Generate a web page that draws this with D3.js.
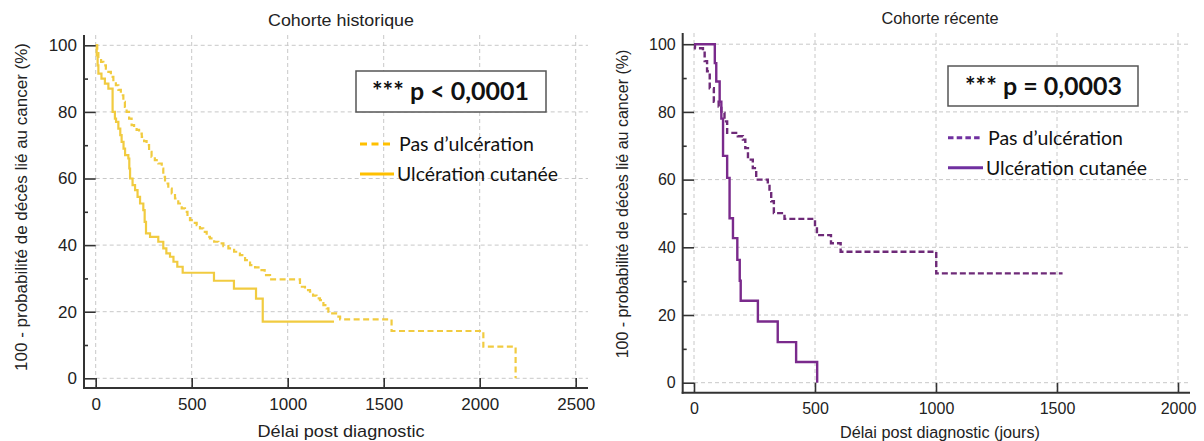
<!DOCTYPE html>
<html><head><meta charset="utf-8">
<script src="https://cdn.jsdelivr.net/npm/d3@7"></script>
<style>body{margin:0;background:#fff;} svg{display:block;}</style>
</head><body><svg id="c" width="1204" height="441"></svg>
<script>
// ---------- DATA ----------
const histTitle = "Cohorte historique";
const recTitle = "Cohorte récente";
const histXLabel = "Délai post diagnostic";
const recXLabel = "Délai post diagnostic (jours)";
const yLabel = "100 - probabilité de décès lié au cancer (%)";
const histXTicks = [0, 500, 1000, 1500, 2000, 2500];
const recXTicks = [0, 500, 1000, 1500, 2000];
const yTicks = [0, 20, 40, 60, 80, 100];
const yMinorTicks = [10, 30, 50, 70, 90];
const legendLabels = ["Pas d\u2019ulcération", "Ulcération cutanée"];
const histPText = "*** p < 0,0001";
const recPText = "*** p = 0,0003";

// Cohorte historique - Pas d'ulcération (dashed)
const histNoUlcT = [0,8,14,28,40,53,66,79,92,105,118,131,144,152,161,174,187,200,213,226,240,252,265,278,291,308,326,344,352,361,378,396,413,430,448,465,478,491,509,526,543,560,578,595,617,639,665,691,721,751,778,804,830,856,880,908,1064,1090,1116,1132,1150,1168,1186,1203,1212,1220,1264,1273,1541,2019,2187];
const histNoUlcS = [100,98,96,95,94,93,92,90.5,89,88,86.6,85,83,81.5,80,78,76,75.2,74.6,73.5,72.5,71.2,70,68,66.5,65.5,64.5,63,60.5,58.5,57,55.5,54,52.5,51,50,48.5,47.5,46.7,46,45,44,42.5,42,41,40.5,39.7,39,38,37,35.5,34,33.3,32.5,31,29.7,27.5,26.5,26,24.8,24,23.5,22,21,20,19.5,18.5,17.7,14.2,9.5,0];
// Cohorte historique - Ulcération cutanée (solid)
const histUlcT = [0,5,10,14,30,48,66,88,100,106,118,128,135,145,153,170,175,179,192,205,218,231,248,255,262,283,326,352,368,387,405,425,453,616,720,835,870,1241];
const histUlcS = [100,97,94,91.5,90,88.5,87,80,78,77,75,73,71,69,67,66,63,60,58,56.5,54.5,52.5,50.5,47,43.5,42.5,41,39,37.5,36.5,35,33.5,31.7,29.3,26.9,23.9,17,17];
// Cohorte récente - Pas d'ulcération (dashed)
const recNoUlcT = [0,4,37,44,54,65,82,102,113,126,137,181,202,212,223,243,257,305,312,319,330,374,500,508,566,606,1001,1523];
const recNoUlcS = [100,98.8,97.9,95,92,87,83,81.6,79.7,77.2,73.8,72.8,71.8,69.3,65.9,63.4,60,58.5,56,53.6,50.1,48.4,46,43.6,41.2,38.7,32.3,32.3];
// Cohorte récente - Ulcération cutanée (solid)
const recUlcT = [0,86,92,106,113,120,137,147,161,179,189,193,264,346,422,509];
const recUlcS = [100,94.4,89,83,78,67,60.5,48.6,42.7,36.3,30.1,24.2,18.1,12,6.1,0];

// ---------- LAYOUT / STYLE ----------
const svg = d3.select("#c");
const FONT = "'Liberation Sans', Arial, sans-serif";
const LFONT = "Lato, 'Open Sans', sans-serif";

const panels = [
  { title: histTitle, xLabel: histXLabel, xTicks: histXTicks, xMax: 2500,
    xr: [95.7, 575.7], yr: [378.3, 45.3], axX: 84, axY: 388, axRight: 588, axTop: 35,
    fs: 17, titleX: 341, titleY: 26, titleLen: 146, xLabY: 437, xLabLen: 167, yLabX: 27, yLabY: 207,
    series: [
      { t: histNoUlcT, s: histNoUlcS, color: "#F1CB40", dash: "6,3.5", w: 2.2 },
      { t: histUlcT, s: histUlcS, color: "#F1CB40", dash: null, w: 2.2 } ],
    legColor: "#FFC000", legDash: "7,4.5",
    box: [356, 71, 190, 41], pText: histPText, pX: 372, pY: 100, pLen: 157,
    leg: { x0: 360, x1: 391, tx: 399, y1: 144, y2: 174, len1: 135, len2: 161 } },
  { title: recTitle, xLabel: recXLabel, xTicks: recXTicks, xMax: 2000,
    xr: [694, 1178], yr: [382.7, 44.2], axX: 682.7, axY: 392.7, axRight: 1190, axTop: 33,
    fs: 16, titleX: 940, titleY: 24, titleLen: 117, xLabY: 438, xLabLen: 200, yLabX: 628, yLabY: 204,
    series: [
      { t: recNoUlcT, s: recNoUlcS, color: "#6E2A78", dash: "6,3", w: 2.4 },
      { t: recUlcT, s: recUlcS, color: "#7A2A8C", dash: null, w: 2.4 } ],
    legColor: "#7030A0", legDash: "5.5,3.2",
    box: [948, 66, 190, 40], pText: recPText, pX: 965, pY: 95, pLen: 157,
    leg: { x0: 948, x1: 980, tx: 988, y1: 137.7, y2: 167.7, len1: 135, len2: 161 } }
];

panels.forEach(p => {
  const g = svg.append("g");
  const x = d3.scaleLinear().domain([0, p.xMax]).range(p.xr);
  const y = d3.scaleLinear().domain([0, 100]).range(p.yr);

  // grid
  g.append("g").selectAll("line").data(yTicks).join("line")
    .attr("x1", p.xr[0]).attr("x2", p.axRight)
    .attr("y1", d => y(d)).attr("y2", d => y(d))
    .attr("stroke", "#c8c8c8").attr("stroke-width", 1).attr("stroke-dasharray", "4,3");
  g.append("g").selectAll("line").data(p.xTicks).join("line")
    .attr("x1", d => x(d)).attr("x2", d => x(d))
    .attr("y1", p.axTop).attr("y2", p.axY)
    .attr("stroke", "#c8c8c8").attr("stroke-width", 1).attr("stroke-dasharray", "4,3");

  // curves
  const line = d3.line().x(d => x(d[0])).y(d => y(d[1])).curve(d3.curveStepAfter);
  p.series.forEach(sr => {
    const pts = sr.t.map((t, i) => [t, sr.s[i]]);
    g.append("path").attr("d", line(pts)).attr("fill", "none")
      .attr("stroke", sr.color).attr("stroke-width", sr.w)
      .attr("stroke-dasharray", sr.dash);
  });

  // axes
  const xa = g.append("g").attr("transform", `translate(0,${p.axY})`)
    .call(d3.axisBottom(x).tickValues(p.xTicks).tickFormat(d3.format("d"))
      .tickSizeInner(-10).tickSizeOuter(0).tickPadding(10));
  const ya = g.append("g").attr("transform", `translate(${p.axX},0)`)
    .call(d3.axisLeft(y).tickValues(yTicks).tickFormat(d3.format("d"))
      .tickSizeInner(-(p.xr[0] - p.axX)).tickSizeOuter(0).tickPadding(7));
  const ym = g.append("g").attr("transform", `translate(${p.axX},0)`)
    .call(d3.axisLeft(y).tickValues(yMinorTicks).tickSizeInner(-4).tickSizeOuter(0).tickFormat(""));
  [xa, ya, ym].forEach(a => {
    a.select(".domain").remove();
    a.selectAll(".tick line").attr("stroke", "#333").attr("stroke-width", 1.6);
    a.selectAll("text").attr("font-family", FONT).attr("font-size", p.fs).attr("fill", "#222");
  });
  g.append("line").attr("x1", p.axX).attr("x2", p.axX).attr("y1", p.axTop).attr("y2", p.axY + 1)
    .attr("stroke", "#333").attr("stroke-width", 2);
  g.append("line").attr("x1", p.axX - 1).attr("x2", p.axRight).attr("y1", p.axY).attr("y2", p.axY)
    .attr("stroke", "#333").attr("stroke-width", 2);

  // titles
  g.append("text").attr("x", p.titleX).attr("y", p.titleY).attr("text-anchor", "middle")
    .attr("font-family", FONT).attr("font-size", p.fs).attr("fill", "#222")
    .attr("textLength", p.titleLen).attr("lengthAdjust", "spacingAndGlyphs").text(p.title);
  g.append("text").attr("x", p.titleX).attr("y", p.xLabY).attr("text-anchor", "middle")
    .attr("font-family", FONT).attr("font-size", p.fs).attr("fill", "#222")
    .attr("textLength", p.xLabLen).attr("lengthAdjust", "spacingAndGlyphs").text(p.xLabel);
  g.append("text").attr("transform", `translate(${p.yLabX},${p.yLabY}) rotate(-90)`)
    .attr("text-anchor", "middle").attr("font-family", FONT).attr("font-size", p.fs)
    .attr("fill", "#222").text(yLabel);

  // p-value box
  g.append("rect").attr("x", p.box[0]).attr("y", p.box[1]).attr("width", p.box[2]).attr("height", p.box[3])
    .attr("fill", "#fff").attr("stroke", "#555").attr("stroke-width", 1.5);
  g.append("text").attr("x", p.pX).attr("y", p.pY).attr("font-family", LFONT).attr("font-weight", "bold")
    .attr("font-size", 24).attr("fill", "#111").attr("textLength", p.pLen)
    .attr("lengthAdjust", "spacingAndGlyphs").text(p.pText);

  // legend
  const L = p.leg;
  g.append("line").attr("x1", L.x0).attr("x2", L.x1).attr("y1", L.y1).attr("y2", L.y1)
    .attr("stroke", p.legColor).attr("stroke-width", 3).attr("stroke-dasharray", p.legDash);
  g.append("line").attr("x1", L.x0).attr("x2", L.x1 + 3).attr("y1", L.y2).attr("y2", L.y2)
    .attr("stroke", p.legColor).attr("stroke-width", 3);
  g.append("text").attr("x", L.tx).attr("y", L.y1 + 7).attr("font-family", LFONT).attr("font-size", 20)
    .attr("fill", "#111").attr("textLength", L.len1).attr("lengthAdjust", "spacingAndGlyphs").text(legendLabels[0]);
  g.append("text").attr("x", L.tx - 2).attr("y", L.y2 + 7).attr("font-family", LFONT).attr("font-size", 20)
    .attr("fill", "#111").attr("textLength", L.len2).attr("lengthAdjust", "spacingAndGlyphs").text(legendLabels[1]);
});
</script></body></html>
